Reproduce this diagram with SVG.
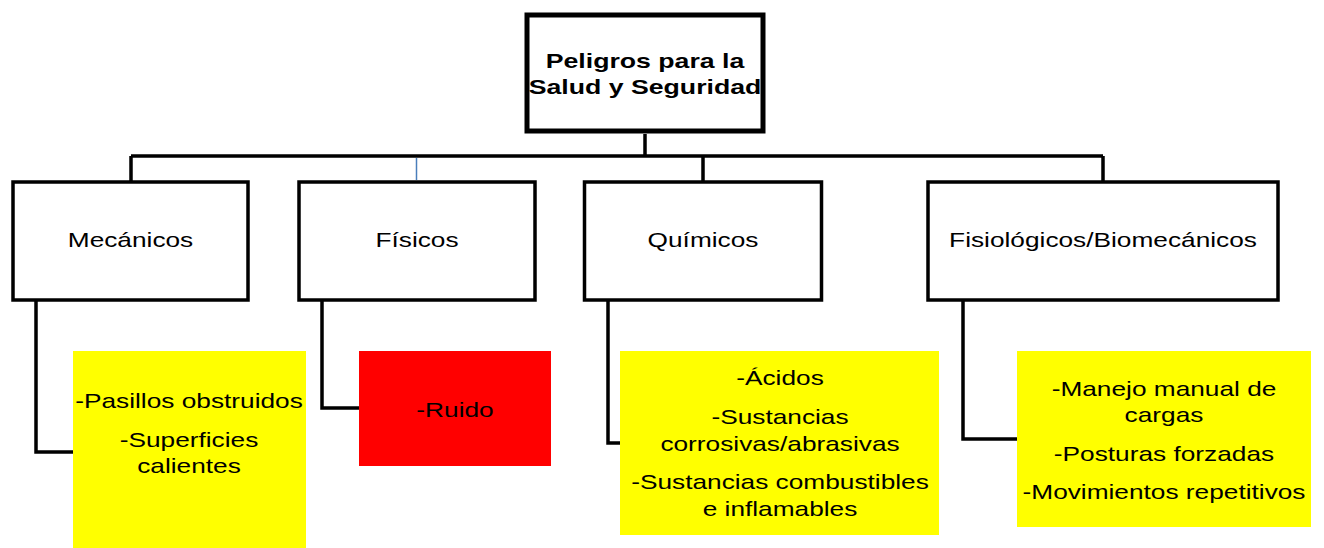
<svg xmlns="http://www.w3.org/2000/svg" width="1324" height="548" viewBox="0 0 1324 548">
<style>
.t{font-family:"Liberation Sans",Arial,sans-serif;font-size:21px;fill:#000;text-anchor:middle}
.b{font-weight:bold}
.box{fill:#fff;stroke:#000;stroke-width:3.5}
.top{fill:#fff;stroke:#000;stroke-width:5}
.yel{fill:#ffff00}
.red{fill:#ff0000}
.c{fill:none;stroke:#000;stroke-width:3.5}
</style>
<rect width="1324" height="548" fill="#fff"/>
<g id="connectors">
<path class="c" d="M645 134V156M131 156H1103M131 156V182M703 156V182M1103 156V182"/>
<path d="M416.5 158V180" stroke="#4a7ebb" stroke-width="1.5" fill="none"/>
<path class="c" d="M36 300V452H73"/>
<path class="c" d="M322 300V408H359"/>
<path class="c" d="M608 300V443H620"/>
<path class="c" d="M963 300V439H1017"/>
</g>
<g id="root">
<rect class="top" x="527" y="15" width="236" height="116"/>
<text class="t b" transform="translate(645 67.5) scale(1.27 1)">Peligros para la</text>
<text class="t b" transform="translate(645 93.5) scale(1.27 1)">Salud y Seguridad</text>
</g>
<g id="mecanicos">
<rect class="box" x="13" y="182" width="235" height="118"/>
<text class="t" transform="translate(130.5 247) scale(1.25 1)">Mecánicos</text>
</g>
<g id="fisicos">
<rect class="box" x="299" y="182" width="236" height="118"/>
<text class="t" transform="translate(417 247) scale(1.25 1)">Físicos</text>
</g>
<g id="quimicos">
<rect class="box" x="584.5" y="182" width="237" height="118"/>
<text class="t" transform="translate(703 247) scale(1.25 1)">Químicos</text>
</g>
<g id="fisiologicos">
<rect class="box" x="928" y="182" width="350" height="118"/>
<text class="t" transform="translate(1103 247) scale(1.25 1)">Fisiológicos/Biomecánicos</text>
</g>
<g id="mecanicos-items">
<rect class="yel" x="73" y="351" width="233" height="197"/>
<text class="t" transform="translate(189 408) scale(1.25 1)">-Pasillos obstruidos</text>
<text class="t" transform="translate(189 447) scale(1.25 1)">-Superficies</text>
<text class="t" transform="translate(189 472.5) scale(1.25 1)">calientes</text>
</g>
<g id="fisicos-items">
<rect class="red" x="359" y="351" width="192" height="115"/>
<text class="t" transform="translate(455 417) scale(1.25 1)">-Ruido</text>
</g>
<g id="quimicos-items">
<rect class="yel" x="620" y="351" width="319" height="184"/>
<text class="t" transform="translate(780 384.5) scale(1.25 1)">-Ácidos</text>
<text class="t" transform="translate(780 423.5) scale(1.25 1)">-Sustancias</text>
<text class="t" transform="translate(780 450.5) scale(1.25 1)">corrosivas/abrasivas</text>
<text class="t" transform="translate(780 489) scale(1.25 1)">-Sustancias combustibles</text>
<text class="t" transform="translate(780 515.5) scale(1.25 1)">e inflamables</text>
</g>
<g id="fisiologicos-items">
<rect class="yel" x="1017" y="351" width="294" height="176"/>
<text class="t" transform="translate(1164 395.5) scale(1.25 1)">-Manejo manual de</text>
<text class="t" transform="translate(1164 422) scale(1.25 1)">cargas</text>
<text class="t" transform="translate(1164 460.5) scale(1.25 1)">-Posturas forzadas</text>
<text class="t" transform="translate(1164 498.5) scale(1.25 1)">-Movimientos repetitivos</text>
</g>
</svg>
